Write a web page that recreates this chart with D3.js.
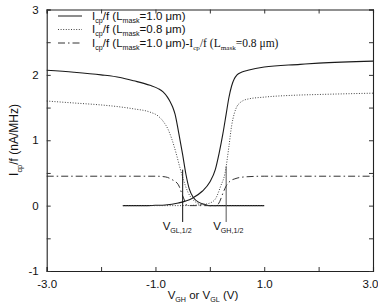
<!DOCTYPE html>
<html><head><meta charset="utf-8">
<script src="https://cdn.jsdelivr.net/npm/d3@7"></script>
<style>
html,body{margin:0;padding:0;background:#fff;}
svg{display:block;}
text{font-family:"Liberation Sans",Arial,sans-serif;fill:#111;}
</style></head><body>
<svg id="c" width="378" height="304"></svg>
<script>
// ---- data ----
const xTicks = [-3, -2, -1, 0, 1, 2, 3];
const xTickLabels = ["-3.0", "", "-1.0", "", "1.0", "", "3.0"];
const yTicks = [-1, -0.5, 0, 0.5, 1, 1.5, 2, 2.5, 3];
const yTickLabels = ["-1", "", "0", "", "1", "", "2", "", "3"];

// I_cp/f, L_mask = 1.0 um, V_GL sweep (falling)
const solidLowX = [-3.0, -2.5, -2.0, -1.65, -1.4, -1.1, -0.95, -0.86, -0.78, -0.73, -0.68, -0.64, -0.57, -0.5, -0.44, -0.38, -0.3, -0.2, -0.1, 0.0, 0.5, 1.0];
const solidLowY = [2.07, 2.04, 2.0, 1.96, 1.91, 1.84, 1.79, 1.74, 1.66, 1.59, 1.5, 1.4, 1.1, 0.78, 0.48, 0.26, 0.12, 0.05, 0.02, 0.0, 0.0, 0.0];
// I_cp/f, L_mask = 1.0 um, V_GH sweep (rising)
const solidHighX = [-1.6, -1.2, -1.0, -0.82, -0.58, -0.33, -0.14, 0.0, 0.1, 0.17, 0.24, 0.3, 0.35, 0.4, 0.45, 0.5, 0.58, 0.7, 1.0, 1.66, 2.0, 3.0];
const solidHighY = [0.0, 0.0, 0.005, 0.01, 0.04, 0.11, 0.22, 0.36, 0.55, 0.8, 1.1, 1.4, 1.65, 1.83, 1.94, 2.0, 2.04, 2.07, 2.12, 2.16, 2.18, 2.21];
// I_cp/f, L_mask = 0.8 um, V_GL sweep
const dotLowX = [-3.0, -2.5, -2.0, -1.65, -1.4, -1.1, -0.95, -0.85, -0.77, -0.7, -0.62, -0.55, -0.48, -0.4, -0.3, -0.2, -0.1, 0.0, 1.0];
const dotLowY = [1.6, 1.57, 1.54, 1.51, 1.48, 1.43, 1.37, 1.28, 1.17, 1.02, 0.8, 0.58, 0.38, 0.2, 0.08, 0.03, 0.01, 0.0, 0.0];
// I_cp/f, L_mask = 0.8 um, V_GH sweep
const dotHighX = [-1.6, -0.5, -0.1, 0.05, 0.1, 0.2, 0.28, 0.35, 0.4, 0.45, 0.5, 0.55, 0.62, 0.7, 1.0, 1.6, 2.0, 3.0];
const dotHighY = [0.0, 0.0, 0.02, 0.06, 0.1, 0.3, 0.5, 0.9, 1.22, 1.41, 1.52, 1.57, 1.61, 1.63, 1.66, 1.69, 1.7, 1.72];
// difference (1.0 um - 0.8 um)
const diffX = [-3.0, -2.0, -1.0, -0.82, -0.7, -0.58, -0.5, -0.45, -0.42, 0.12, 0.18, 0.24, 0.3, 0.38, 0.46, 0.65, 1.0, 2.0, 3.0];
const diffY = [0.45, 0.45, 0.45, 0.44, 0.4, 0.32, 0.15, 0.05, 0.0, 0.0, 0.06, 0.19, 0.3, 0.38, 0.41, 0.44, 0.45, 0.45, 0.45];
// half-point markers
const markerX = [-0.5, 0.3];
const markerY0 = [-0.25, -0.25];
const markerY1 = [0.55, 0.6];

// ---- chart ----
const svg = d3.select("#c");
const L = 46.7, R = 373, T = 9.5, B = 271;
const x = d3.scaleLinear().domain([-3, 3]).range([L, R]);
const y = d3.scaleLinear().domain([-1, 3]).range([B, T]);

function zip(a, b) { return a.map((v, i) => [v, b[i]]); }
const line = d3.line().x(d => x(d[0])).y(d => y(d[1])).curve(d3.curveMonotoneX);

const series = [
  { d: zip(solidLowX, solidLowY), dash: null, c: "#1a1a1a", w: 1.1 },
  { d: zip(solidHighX, solidHighY), dash: null, c: "#1a1a1a", w: 1.1 },
  { d: zip(dotLowX, dotLowY), dash: "1,1.6", c: "#444", w: 1 },
  { d: zip(dotHighX, dotHighY), dash: "1,1.6", c: "#444", w: 1 },
  { d: zip(diffX, diffY), dash: "7,3,1.5,3", c: "#333", w: 1 }
];
series.forEach(s => {
  svg.append("path").attr("d", line(s.d)).attr("fill", "none")
    .attr("stroke", s.c).attr("stroke-width", s.w)
    .attr("stroke-dasharray", s.dash);
});

// markers
markerX.forEach((v, i) => {
  svg.append("line").attr("x1", x(v)).attr("x2", x(v))
    .attr("y1", y(markerY0[i])).attr("y2", y(markerY1[i]))
    .attr("stroke", i === 0 ? "#111" : "#555").attr("stroke-width", 1);
});

function rich(g, parts, size) {
  const t = g;
  parts.forEach(p => {
    const sp = t.append("tspan").text(p[0]);
    if (p[1] === "sub") sp.attr("font-size", size * 0.62).attr("dy", size * 0.3);
    else if (p[1] === "up") sp.attr("font-size", size).attr("dy", -size * 0.3);
    if (p[2]) sp.style("font-family", p[2]);
  });
  return t;
}

// marker labels
rich(svg.append("text").attr("x", x(-0.5) - 20).attr("y", 230).attr("font-size", 11.5),
  [["V"], ["GL,1/2", "sub"]], 11.5);
rich(svg.append("text").attr("x", x(0.3) - 13).attr("y", 230).attr("font-size", 11.5),
  [["V"], ["GH,1/2", "sub"]], 11.5);

// axes
const gB = svg.append("g").attr("transform", `translate(0,${B})`)
  .call(d3.axisBottom(x).tickValues(xTicks).tickSize(-4).tickPadding(6)
    .tickFormat((d, i) => xTickLabels[i]));
const gT = svg.append("g").attr("transform", `translate(0,${T})`)
  .call(d3.axisTop(x).tickValues(xTicks).tickSize(-4).tickFormat(""));
const gL = svg.append("g").attr("transform", `translate(${L},0)`)
  .call(d3.axisLeft(y).tickValues(yTicks).tickSize(-4).tickPadding(8)
    .tickFormat((d, i) => yTickLabels[i]));
const gR = svg.append("g").attr("transform", `translate(${R},0)`)
  .call(d3.axisRight(y).tickValues(yTicks).tickSize(-4).tickFormat(""));
[gB, gT, gL, gR].forEach(g => {
  g.select(".domain").attr("stroke", "#222").attr("stroke-width", 1.1);
  g.selectAll(".tick line").attr("stroke", "#333");
  g.selectAll("text").attr("font-size", 11.5).style("font-family", '"Liberation Sans",Arial,sans-serif').attr("fill", "#111");
});
gB.selectAll(".tick text").attr("dy", "0.95em");
// keep the last label inside the window
gB.selectAll(".tick text").filter(d => d === 3).attr("text-anchor", "end").attr("dx", 5);

// axis titles
rich(svg.append("text").attr("x", 203).attr("y", 299).attr("text-anchor", "middle").attr("font-size", 11.5),
  [["V"], ["GH", "sub"], [" or V", "up"], ["GL", "sub"], [" (V)", "up"]], 11.5);
rich(svg.append("text").attr("transform", "translate(18,140) rotate(-90)").attr("text-anchor", "middle").attr("font-size", 12),
  [["I"], ["cp", "sub"], ["/f (nA/MHz)", "up"]], 12);

// legend
const legY = [16, 29.5, 43];
const legDash = [null, "1,1.6", "7,3,1.5,3"];
const legCol = ["#1a1a1a", "#444", "#333"];
legY.forEach((ly, i) => {
  svg.append("line").attr("x1", 58).attr("x2", 82).attr("y1", ly).attr("y2", ly)
    .attr("stroke", legCol[i]).attr("stroke-width", 1).attr("stroke-dasharray", legDash[i]);
});
const sz = 11.5;
rich(svg.append("text").attr("x", 92).attr("y", legY[0] + 3.5).attr("font-size", sz),
  [["I"], ["cp", "sub"], ["/f (L", "up"], ["mask", "sub"], ["=1.0 μm)", "up"]], sz);
rich(svg.append("text").attr("x", 92).attr("y", legY[1] + 3.5).attr("font-size", sz),
  [["I"], ["cp", "sub"], ["/f (L", "up"], ["mask", "sub"], ["=0.8 μm)", "up"]], sz);
const serif = '"Liberation Serif","Times New Roman",serif';
rich(svg.append("text").attr("x", 92).attr("y", legY[2] + 3.5).attr("font-size", sz),
  [["I"], ["cp", "sub"], ["/f (L", "up"], ["mask", "sub"], ["=1.0 μm)", "up"],
   ["-I", null, serif], ["cp", "sub", serif], ["/f (L", "up", serif], ["mask", "sub", serif], ["=0.8 μm)", "up", serif]], sz);
</script>
</body></html>
